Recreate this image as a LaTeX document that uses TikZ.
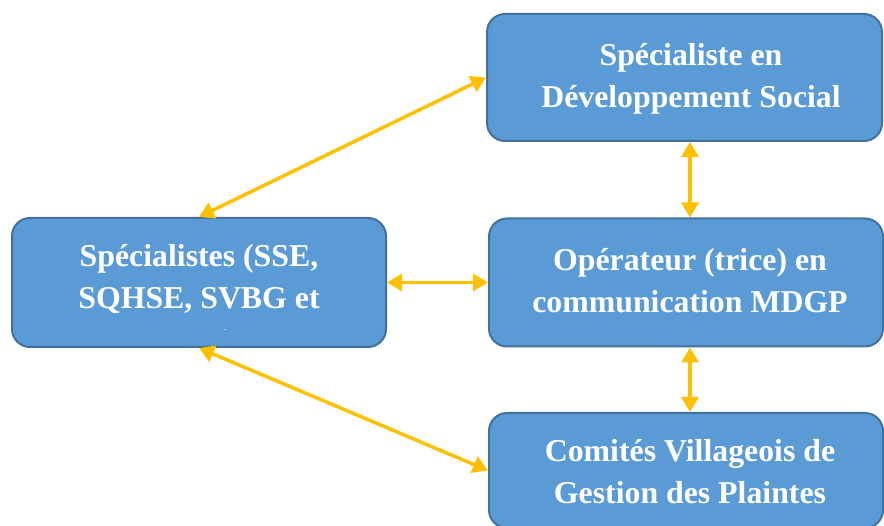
\documentclass[tikz,border=0pt]{standalone}
\usepackage{fontspec}
\setmainfont{Liberation Serif}
\usetikzlibrary{arrows.meta}
\definecolor{boxfill}{HTML}{5B9BD5}
\definecolor{boxline}{HTML}{41719C}
\definecolor{linkcol}{HTML}{FFC000}

\begin{document}
\begin{tikzpicture}[x=1pt,y=-1pt,
  card/.style={draw=boxline, line width=2pt, fill=boxfill,
               rounded corners=18pt, inner sep=0pt},
  label/.style={text=white, inner sep=0pt, align=center,
                font=\fontsize{31.8}{42}\selectfont\bfseries},
  link/.style={draw=linkcol, line width=3.5pt,
               {Triangle[length=15pt,width=17pt]}-{Triangle[length=15pt,width=17pt]}}]

\useasboundingbox (0,0) rectangle (884,526);
\clip (0,0) rectangle (884,526);

% boxes
\node[card, minimum width=395pt, minimum height=127pt] (spec) at (684.5,77.5) {};
\node[card, minimum width=394pt, minimum height=128pt] (oper) at (686,282.5) {};
\node[card, minimum width=394pt, minimum height=115pt] (comt) at (686,470.5) {};
\node[card, minimum width=374pt, minimum height=129pt] (spes) at (199,282.5) {};

% texts
\node[label] (spect) at (691,79) {Spécialiste en\\Développement Social};
\node[label] (opert) at (690,281) {Opérateur (trice) en\\communication MDGP};
\node[label] (comtt) at (690,472) {Comités Villageois de\\Gestion des Plaintes};
\node[label] (spest) at (199,279) {Spécialistes (SSE,\\SQHSE, SVBG et};
% third line of the left box, cut off by the box's text area
\begin{scope}
  \clip (12,218) rectangle (386,330);
  \node[label, anchor=base] (spesl) at (199,352) {EST)};
\end{scope}

% links
\coordinate (vx) at (690,0);
\draw[link] (spes.north) -- (spec.west);
\draw[link] (spes.east) -- (oper.west);
\draw[link] (spes.south) -- (comt.west);
\draw[link] (spec.south -| vx) -- (oper.north -| vx);
\draw[link] (oper.south -| vx) -- (comt.north -| vx);
\end{tikzpicture}
\end{document}
